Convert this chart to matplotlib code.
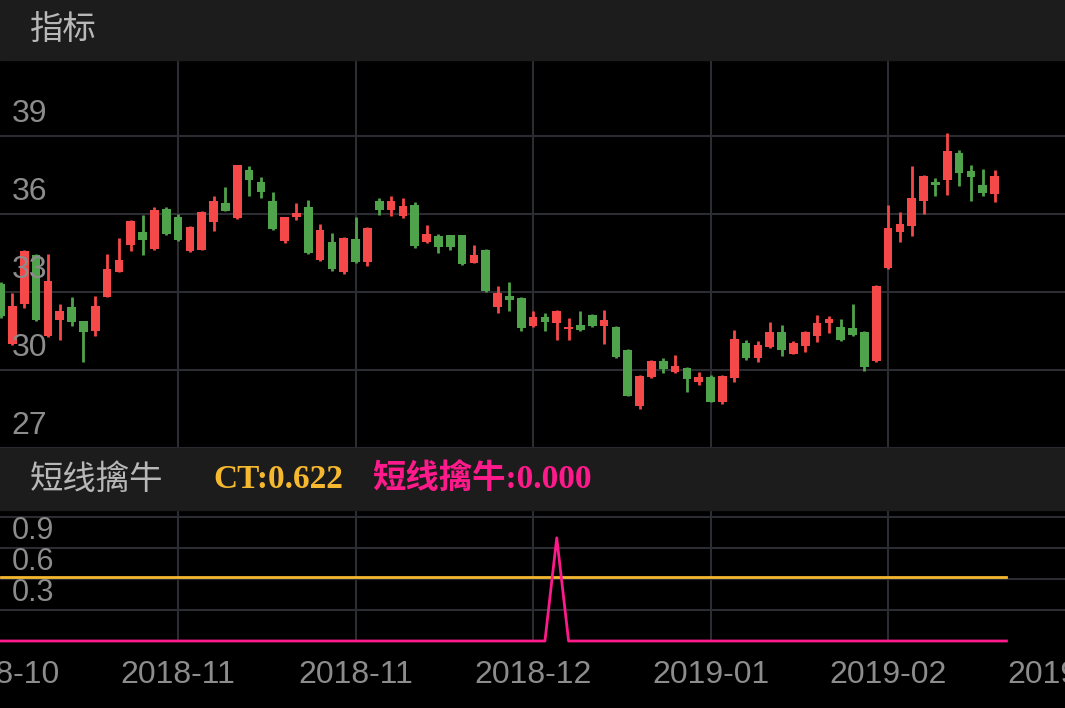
import matplotlib
matplotlib.use("Agg")
import matplotlib.pyplot as plt
from matplotlib.patches import Rectangle

opens  = [33.31,31.0,32.54,34.42,31.31,31.92,32.42,31.89,31.5,32.81,33.77,34.81,35.31,34.65,36.19,35.89,34.58,34.62,35.69,36.42,
          35.85,37.69,37.23,36.5,34.96,35.89,36.27,34.23,34.92,33.77,35.04,34.15,36.5,36.15,35.92,36.35,34.92,35.15,35.19,35.19,
          34.12,34.62,32.42,32.85,32.77,31.69,32.04,31.81,31.58,31.73,32.12,31.69,31.65,30.77,28.62,29.73,30.35,29.92,30.08,29.54,
          29.73,28.77,29.69,31.04,30.46,30.88,31.46,30.62,30.92,31.31,31.81,31.65,31.62,31.46,30.35,33.92,35.31,35.54,36.5,37.23,
          37.31,38.35,37.65,37.12,36.77]
closes = [32.08,32.46,34.58,31.92,33.42,32.27,31.85,31.46,32.46,33.89,34.23,35.73,35.0,36.15,35.23,35.0,35.5,36.08,36.5,36.12,
          37.89,37.31,36.85,35.42,35.89,36.04,34.5,35.39,33.89,35.08,34.15,35.46,36.15,36.5,36.31,34.77,35.23,34.73,34.73,34.08,
          34.42,33.04,32.96,32.69,31.62,32.04,31.85,32.27,31.65,31.54,31.69,31.92,30.5,29.0,29.77,30.35,30.04,30.15,29.65,29.73,
          28.77,29.77,31.19,30.46,30.96,31.46,30.77,31.04,31.46,31.81,31.96,31.15,31.35,30.12,33.23,35.46,35.62,36.62,37.46,37.12,
          38.42,37.58,37.42,36.81,37.46]
highs  = [33.4,32.96,34.6,34.45,34.46,32.54,32.81,31.9,32.85,34.46,35.08,35.75,35.96,36.27,36.25,36.0,35.54,36.1,36.69,37.04,
          37.9,37.85,37.42,36.85,35.9,36.42,36.54,35.62,35.27,35.1,35.89,35.5,36.62,36.69,36.62,36.46,35.58,35.23,35.2,35.2,
          34.81,34.65,33.23,33.39,32.8,32.27,32.19,32.3,32.0,32.27,32.15,32.31,31.7,30.8,29.8,30.4,30.46,30.58,30.1,29.92,
          29.8,29.8,31.54,31.15,31.12,31.85,31.73,31.1,31.5,32.12,32.08,31.96,32.54,31.5,33.25,36.35,36.08,37.85,37.5,37.38,
          39.12,38.46,37.88,37.73,37.69]
lows   = [32.0,30.95,32.4,31.9,31.25,31.15,31.69,30.31,31.31,32.8,33.75,34.58,34.42,34.6,35.2,34.95,34.55,34.6,35.35,36.1,
          35.8,36.69,36.62,35.4,34.9,35.77,34.45,34.2,33.8,33.7,34.1,34.0,35.96,35.92,35.85,34.7,34.9,34.5,34.62,34.05,
          34.1,33.0,32.19,32.27,31.5,31.65,31.5,31.15,31.15,31.5,31.65,31.0,30.45,29.0,28.5,29.7,29.88,29.9,29.15,29.42,
          28.75,28.7,29.54,30.38,30.31,30.85,30.54,30.6,30.69,31.08,31.42,31.1,31.3,29.96,30.3,33.9,34.92,35.15,36.0,36.69,
          36.73,37.08,36.5,36.69,36.46]
ct_value = 0.622
signal = [0.0]*86
signal[47] = 1.0
x_ticks = [0, 15, 30, 45, 60, 75, 90]
x_labels = ["2018-10", "2018-11", "2018-11", "2018-12", "2019-01", "2019-02", "2019-03"]
y_main = [27, 30, 33, 36, 39]
y_sub = [0.3, 0.6, 0.9]

W, H = 1065, 708
fig = plt.figure(figsize=(W/100, H/100), dpi=100, facecolor="black")
GRID = "#2c2c33"
LAB = "#8c8c8c"
RED, GREEN = "#f54848", "#4fa34b"

def fy(p): return 1 - p/H
for top, bot in [(0, 60), (448, 510)]:
    fig.patches.append(Rectangle((0, fy(bot)), 1, (bot-top)/H, transform=fig.transFigure, color="#1c1c1c", zorder=0))
fig.text(30/W, fy(30), "指标", color="#b8b8b8", fontsize=24, va="center", family=["Noto Sans CJK SC"])
fig.text(30/W, fy(480), "短线擒牛", color="#b8b8b8", fontsize=24, va="center", family=["Noto Sans CJK SC"])
fig.text(213/W, fy(480), f"CT:{ct_value:.3f}", color="#f5b82e", fontsize=24, va="center",
         family=["Liberation Serif"], weight="bold")
fig.text(372/W, fy(480), f"短线擒牛:{signal[-1]:.3f}", color="#ff1a8c", fontsize=24, va="center",
         family=["Liberation Serif", "Noto Sans CJK SC"], weight="bold")

xl = (-0.05, 89.95)
ax = fig.add_axes([0, fy(448), 1, 388/H], facecolor="black")
ax.set_xlim(*xl); ax.set_ylim(27, 41.92)
for v in y_main:
    ax.axhline(v, color=GRID, lw=1.5, zorder=0)
    ax.text(0.011, v + 0.25, str(v), transform=ax.get_yaxis_transform(), color=LAB, fontsize=23,
            va="bottom", zorder=5, family=["Liberation Sans"])
for t in x_ticks[1:-1]:
    ax.axvline(t, color=GRID, lw=1.5, zorder=0)
bw = 0.74
for i, (o, c, h, l) in enumerate(zip(opens, closes, highs, lows)):
    col = RED if c >= o else GREEN
    ax.vlines(i, l, h, color=col, lw=2, zorder=2)
    ax.add_patch(Rectangle((i - bw/2, min(o, c)), bw, max(abs(c - o), 0.08), color=col, zorder=3, lw=0))
ax.axis("off")

ax2 = fig.add_axes([0, fy(641), 1, 131/H], facecolor="black")
ax2.set_xlim(*xl); ax2.set_ylim(0, 1.27)
for v in [0.3, 0.6, 0.9, 1.2]:
    ax2.axhline(v, color=GRID, lw=1.5, zorder=0)
for v in y_sub:
    ax2.text(0.011, v + 0.02, str(v), transform=ax2.get_yaxis_transform(), color=LAB, fontsize=22,
             va="bottom", zorder=5, family=["Liberation Sans"])
for t in x_ticks[1:-1]:
    ax2.axvline(t, color=GRID, lw=1.5, zorder=0)
n = len(signal)
ax2.plot(range(n), [ct_value]*n, color="#f5b82e", lw=2, zorder=3)
ax2.plot(range(n), signal, color="#ff1a8c", lw=2, zorder=4, clip_on=False)
ax2.axis("off")

for t, lab in zip(x_ticks, x_labels):
    xf = (t - xl[0]) / (xl[1] - xl[0])
    fig.text(xf, fy(675), lab, color=LAB, fontsize=23, ha="center", va="center", family=["Liberation Sans"])

fig.savefig("out.png", dpi=100, facecolor="black")
